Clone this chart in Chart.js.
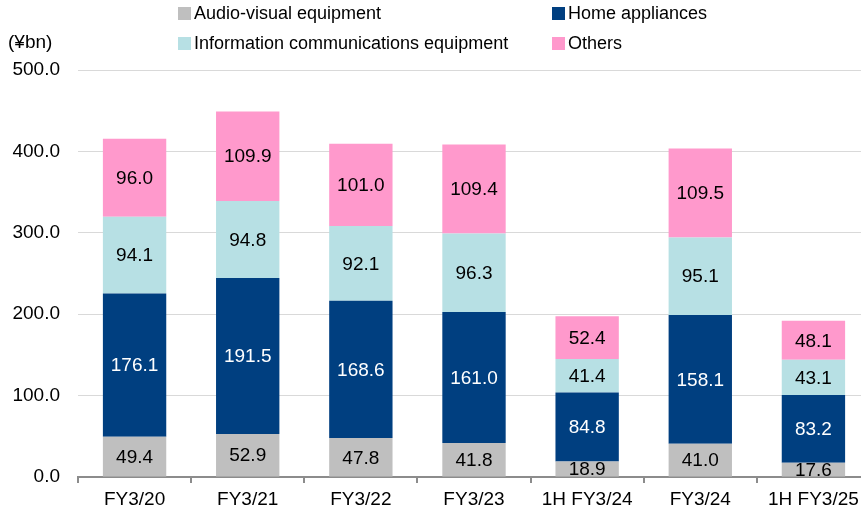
<!DOCTYPE html>
<html>
<head>
<meta charset="utf-8">
<script src="https://cdn.jsdelivr.net/npm/chart.js@4"></script>
<style>
  html, body { margin: 0; padding: 0; background: #fff; overflow: hidden; width: 861px; height: 513px; }
  #wrap { position: absolute; left: 0; top: 0; width: 880px; height: 513px; }
  .lg { position: absolute; font: 18px "Liberation Sans", Arial, sans-serif; color: #000; white-space: nowrap; }
  .lg i { display: inline-block; width: 13px; height: 13px; margin-right: 3px; vertical-align: -1px; }
  #unit { position: absolute; left: 8px; top: 31px; font: 19px "Liberation Sans", Arial, sans-serif; }
</style>
</head>
<body>
<div id="wrap"><canvas id="salesChart" width="880" height="513"></canvas></div>
<div id="unit">(¥bn)</div>
<div class="lg" style="left:178px;top:3px"><i style="background:#bfbfbf"></i>Audio-visual equipment</div>
<div class="lg" style="left:552px;top:3px"><i style="background:#003f80"></i>Home appliances</div>
<div class="lg" style="left:178px;top:33px"><i style="background:#b7e0e4"></i>Information communications equipment</div>
<div class="lg" style="left:552px;top:33px"><i style="background:#ff99cc"></i>Others</div>
<script>
// Sales by product category
const categories = ['FY3/20', 'FY3/21', 'FY3/22', 'FY3/23', '1H FY3/24', 'FY3/24', '1H FY3/25'];
const audioVisual = [49.4, 52.9, 47.8, 41.8, 18.9, 41.0, 17.6];
const homeAppliances = [176.1, 191.5, 168.6, 161.0, 84.8, 158.1, 83.2];
const infoComm = [94.1, 94.8, 92.1, 96.3, 41.4, 95.1, 43.1];
const others = [96.0, 109.9, 101.0, 109.4, 52.4, 109.5, 48.1];
const yTicks = [0, 100, 200, 300, 400, 500];

const FONT = '"Liberation Sans", Arial, sans-serif';

// draw values inside each segment
const segmentLabels = {
    id: 'segmentLabels',
    afterDatasetsDraw(chart) {
        const c = chart.ctx;
        c.save();
        c.font = '19px ' + FONT;
        c.textAlign = 'center';
        c.textBaseline = 'middle';
        chart.data.datasets.forEach((ds, i) => {
            chart.getDatasetMeta(i).data.forEach((bar, j) => {
                const mid = (bar.y + bar.base) / 2;
                c.fillStyle = ds.labelColor;
                c.fillText(ds.data[j].toFixed(1), bar.x, mid + 1);
            });
        });
        c.restore();
    }
};

const ctx = document.getElementById('salesChart').getContext('2d');
const salesChart = new Chart(ctx, {
    type: 'bar',
    data: {
        labels: categories,
        datasets: [
            { label: 'Audio-visual equipment', data: audioVisual, backgroundColor: '#bfbfbf', labelColor: '#000' },
            { label: 'Home appliances', data: homeAppliances, backgroundColor: '#003f80', labelColor: '#fff' },
            { label: 'Information communications equipment', data: infoComm, backgroundColor: '#b7e0e4', labelColor: '#000' },
            { label: 'Others', data: others, backgroundColor: '#ff99cc', labelColor: '#000' }
        ]
    },
    options: {
        responsive: false,
        animation: false,
        layout: { padding: { top: 70, left: 0, right: 10, bottom: 0 } },
        datasets: { bar: { categoryPercentage: 1.0, barPercentage: 0.56 } },
        plugins: { legend: { display: false }, tooltip: { enabled: false } },
        scales: {
            x: {
                stacked: true,
                grid: { drawOnChartArea: false, tickLength: 6, color: '#8c8c8c', lineWidth: 2 },
                border: { color: '#8c8c8c', width: 2 },
                ticks: { color: '#000', font: { family: FONT, size: 19 }, padding: 5, maxRotation: 0 },
                afterFit(scale) { scale.height = 36; }
            },
            y: {
                stacked: true,
                min: 0,
                max: 500,
                afterBuildTicks(scale) { scale.ticks = yTicks.map(v => ({ value: v })); },
                grid: { color: '#d9d9d9', drawTicks: false },
                border: { display: false },
                ticks: {
                    color: '#000',
                    font: { family: FONT, size: 19 },
                    padding: 18,
                    callback: v => v.toFixed(1)
                },
                afterFit(scale) { scale.width = 78; }
            }
        }
    },
    plugins: [segmentLabels]
});
</script>
</body>
</html>
